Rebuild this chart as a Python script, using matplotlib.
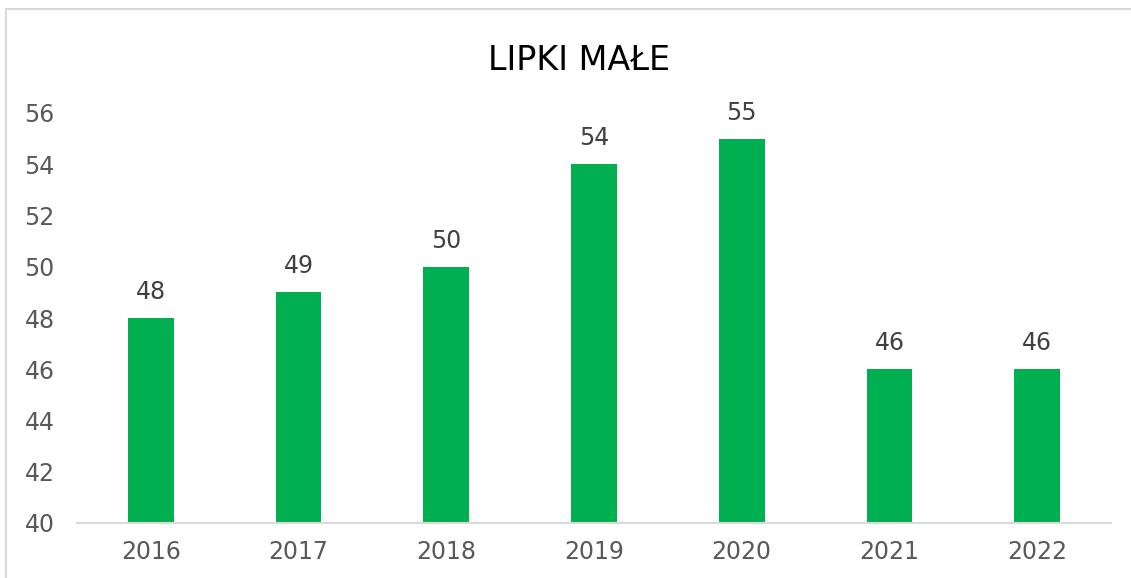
import numpy as np
import matplotlib
matplotlib.use("Agg")
import matplotlib.pyplot as plt
from matplotlib.patches import Rectangle

years = ["2016", "2017", "2018", "2019", "2020", "2021", "2022"]
values = [48, 49, 50, 54, 55, 46, 46]
yticks = [40, 42, 44, 46, 48, 50, 52, 54, 56]

W, H = 1131, 578
fig = plt.figure(figsize=(W / 100, H / 100), dpi=100)
plt.rcParams["font.family"] = "DejaVu Sans"

# chart border (cropped at right/bottom like the reference)
fig.patches.append(Rectangle((6 / W, -0.1), (1140 - 6) / W, 1.1 - 9 / H,
                             transform=fig.transFigure, fill=False,
                             edgecolor="#D9D9D9", linewidth=1.5))

left, right = 77 / W, 1111 / W
bottom, top = 1 - 523 / H, 1 - 113 / H
ax = fig.add_axes([left, bottom, right - left, top - bottom])

x = np.arange(len(years))
ax.bar(x, values, width=0.31, bottom=0, color="#00B050", zorder=2)
ax.set_xlim(-0.5, len(years) - 0.5)
ax.set_ylim(40, 56)

for xi, v in zip(x, values):
    ax.annotate(str(v), (xi, v), xytext=(0, 10), textcoords="offset points",
                ha="center", va="bottom", fontsize=17, color="#404040")

ax.set_xticks(x)
ax.set_xticklabels(years)
ax.set_yticks(yticks)
ax.tick_params(axis="both", length=0, labelsize=17, colors="#595959")
ax.tick_params(axis="x", pad=12)
ax.tick_params(axis="y", pad=16)

for s in ["top", "right", "left"]:
    ax.spines[s].set_visible(False)
ax.spines["bottom"].set_color("#D9D9D9")
ax.spines["bottom"].set_linewidth(1.5)
ax.spines["bottom"].set_zorder(3)

fig.text(579 / W, 1 - 60 / H, "LIPKI MAŁE", ha="center", va="center",
         fontsize=24, color="#000000")

fig.savefig("out.png", dpi=100)
